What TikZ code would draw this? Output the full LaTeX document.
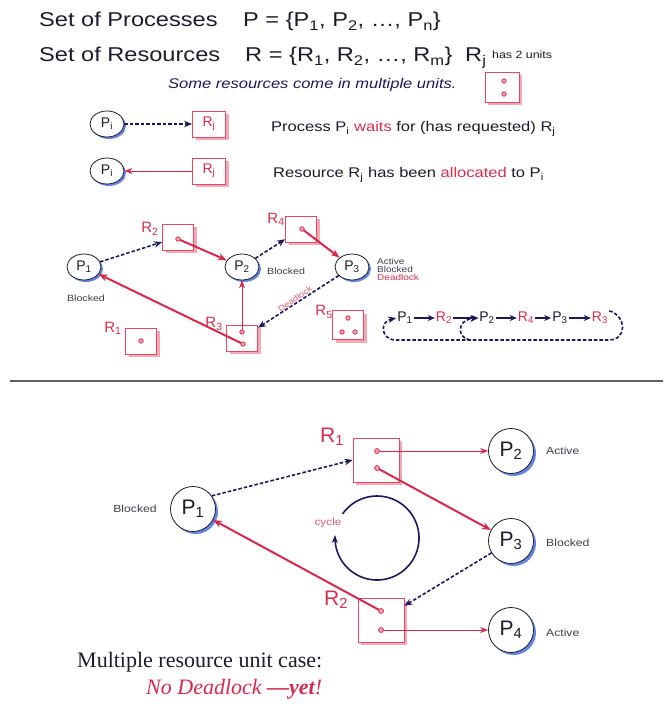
\documentclass[tikz,border=0pt]{standalone}
\usepackage{fontspec}
\setmainfont{Liberation Sans}
\newfontfamily\wsans[FakeStretch=1.18]{Liberation Sans}
\newfontfamily\tnr{Liberation Serif}
\usetikzlibrary{arrows.meta,shapes.geometric,shadows}
\definecolor{ink}{HTML}{1C1C2C}
\definecolor{mynavy}{HTML}{1A1A5A}
\definecolor{lred}{HTML}{D62A4C}
\definecolor{bred}{HTML}{E04A62}
\definecolor{rtext}{HTML}{D4304E}
\definecolor{pshadow}{HTML}{F2A8B6}
\definecolor{cshadow}{HTML}{5577DD}
\definecolor{dotfill}{HTML}{F0A0B0}
\newcommand\sbs[1]{\textsubscript{#1}}
\newcommand\fs[1]{\fontsize{#1}{#1}\selectfont}
\begin{document}
\begin{tikzpicture}[x=1pt,y=-1pt,
  procS/.style={ellipse, draw=ink, line width=0.8pt, fill=white, minimum width=34pt, minimum height=26pt, inner sep=0pt, font=\fs{14}, text=ink, drop shadow={shadow xshift=2pt, shadow yshift=-2pt, fill=cshadow, opacity=0.9}},
  procL/.style={circle, draw=ink, line width=0.8pt, fill=white, minimum size=45pt, inner sep=0pt, font=\fs{21}, text=ink, drop shadow={shadow xshift=2.5pt, shadow yshift=-2.5pt, fill=cshadow, opacity=0.9}},
  resS/.style={rectangle, draw=bred, line width=0.9pt, fill=white, minimum width=31pt, minimum height=26pt, inner sep=0pt, font=\fs{14}, text=rtext, drop shadow={shadow xshift=3pt, shadow yshift=-3pt, fill=pshadow, opacity=1}},
  resL/.style={rectangle, draw=bred, line width=0.9pt, fill=white, minimum width=46pt, minimum height=44pt, inner sep=0pt, drop shadow={shadow xshift=3pt, shadow yshift=-3pt, fill=pshadow, opacity=1}},
  dotS/.style={circle, draw=lred, fill=dotfill, line width=0.7pt, inner sep=0pt, minimum size=4.5pt},
  rlab/.style={font=\fs{15}, text=rtext, inner sep=0pt},
  rlabL/.style={font=\fs{21}, text=rtext, inner sep=0pt},
  title/.style={font=\wsans\fs{20}, text=ink, inner sep=0pt, anchor=base west},
  txt/.style={font=\wsans\fs{14}, text=ink, inner sep=0pt, anchor=base west},
  small/.style={font=\wsans\fs{9}, text=ink!85, inner sep=0pt},
  smallL/.style={font=\wsans\fs{10.3}, text=ink!85, inner sep=0pt, anchor=west},
  cyc/.style={font=\fs{14}, text=ink, inner sep=1pt},
  dashA/.style={mynavy, line width=1.6pt, dash pattern=on 3.5pt off 2pt, -{Stealth[length=8pt,width=6.5pt]}},
  cycA/.style={mynavy, line width=1.6pt, -{Stealth[length=7pt,width=6pt]}},
  redK/.style={lred, line width=2pt, -{Stealth[length=9pt,width=7pt]}},
  redN/.style={lred, line width=0.9pt, -{Stealth[length=8pt,width=6pt]}}
]
\fill[white] (0,0) rectangle (663,708);
\useasboundingbox (0,0) rectangle (663,708);

% ---------- titles ----------
\node[title] (t1) at (39,27) {Set of Processes};
\node[title] (t2) at (243,27) {P = \{P\sbs{1}, P\sbs{2}, …, P\sbs{n}\}};
\node[title] (t3) at (39,62) {Set of Resources};
\node[title] (t4) at (245,62) {R = \{R\sbs{1}, R\sbs{2}, …, R\sbs{m}\}};
\node[title] (t5) at (465,62) {R\sbs{j}};
\node[anchor=base west, font=\wsans\fs{10.5}, text=ink, inner sep=0pt] (t6) at (492,59) {has 2 units};
\node[anchor=base west, font=\wsans\itshape\fs{14}, text=mynavy, inner sep=0pt] (t7) at (168,89) {Some resources come in multiple units.};
\node[resS, minimum width=34pt, minimum height=30pt] (ubox) at (502,87) {};
\node[dotS] (ud1) at (504,81) {};
\node[dotS] (ud2) at (504,94) {};

% ---------- legend ----------
\node[procS] (li1) at (107,124) {P\sbs{i}};
\node[resS, minimum width=33pt] (lr1) at (209,124) {R\sbs{j}};
\draw[dashA] (li1) -- (lr1);
\node[txt] (lt1) at (271,132) {Process P\sbs{i} \textcolor{rtext}{waits} for (has requested) R\sbs{j}};
\node[procS] (li2) at (107,171) {P\sbs{i}};
\node[resS, minimum width=33pt] (lr2) at (209,171) {R\sbs{j}};
\draw[redN] (lr2) -- (li2);
\node[txt] (lt2) at (273,178) {Resource R\sbs{j} has been \textcolor{rtext}{allocated} to P\sbs{i}};

% ---------- top graph ----------
\node[procS] (P1) at (84,267) {P\sbs{1}};
\node[procS] (P2) at (242,267) {P\sbs{2}};
\node[procS] (P3) at (352,267) {P\sbs{3}};
\node[resS] (R2) at (178,237) {};
\node[resS] (R4) at (301,229) {};
\node[resS] (R3) at (242,338) {};
\node[resS] (R1) at (141,341) {};
\node[resS, minimum height=29pt] (R5) at (348,325) {};
\node[rlab] (R2l) at (150,229) {R\sbs{2}};
\node[rlab] (R4l) at (276,219) {R\sbs{4}};
\node[rlab] (R3l) at (214,324) {R\sbs{3}};
\node[rlab] (R1l) at (113,328) {R\sbs{1}};
\node[rlab] (R5l) at (324,312) {R\sbs{5}};
\coordinate (r2d) at (178,239);
\coordinate (r4d) at (302,229);
\coordinate (r3a) at (242,332);
\coordinate (r3b) at (243,344);
\draw[dashA] (P1) -- (R2);
\draw[redK] (r2d) -- (P2);
\draw[dashA] (P2) -- (R4);
\draw[redK] (r4d) -- (P3);
\draw[dashA] (P3) -- (R3);
\draw[redK] (r3b) -- (P1);
\draw[redN] (r3a) -- (P2);
\node[dotS] (r2dn) at (r2d) {};
\node[dotS] (r4dn) at (r4d) {};
\node[dotS] (r3an) at (r3a) {};
\node[dotS] (r3bn) at (r3b) {};
\node[dotS] (r1dn) at (141,341) {};
\node[dotS] (r5d1) at (348,318) {};
\node[dotS] (r5d2) at (342,332) {};
\node[dotS] (r5d3) at (355,332) {};
\node[small] (bl1) at (86,298) {Blocked};
\node[small, anchor=west] (bl2) at (267,271) {Blocked};
\node[small, anchor=base west, font=\wsans\fs{8.5}] (st1) at (377,264) {Active};
\node[small, anchor=base west, font=\wsans\fs{8.5}] (st2) at (377,272) {Blocked};
\node[small, anchor=base west, font=\wsans\fs{8.5}, text=rtext] (st3) at (377,280) {Deadlock};
\node[font=\wsans\fs{8}, text=rtext!80, rotate=35, inner sep=0pt] (dl) at (295,299) {Deadlock};

% ---------- cycle notation ----------
\node[cyc] (c1) at (405,318) {P\sbs{1}};
\node[cyc, text=rtext] (c2) at (444,318) {R\sbs{2}};
\node[cyc] (c3) at (487,318) {P\sbs{2}};
\node[cyc, text=rtext] (c4) at (526,318) {R\sbs{4}};
\node[cyc] (c5) at (560,318) {P\sbs{3}};
\node[cyc, text=rtext] (c6) at (600,318) {R\sbs{3}};
\draw[cycA] (c1) -- (c2);
\draw[cycA] (c2) -- (c3);
\draw[cycA] (c3) -- (c4);
\draw[cycA] (c4) -- (c5);
\draw[cycA] (c5) -- (c6);
\coordinate (brB) at (470,340);
\draw[dashA] (c6.north east) .. controls (627,316) and (627,340) .. (609,340) -- (396,340) .. controls (381,340) and (379,322) .. (c1.west);
\draw[dashA] (brB) .. controls (457,338) and (456,320) .. (c3.west);

% ---------- separator ----------
\draw[line width=1.6pt, gray!75!black] (10,381) -- (663,381);

% ---------- bottom graph ----------
\node[procL] (Q1) at (193,509) {P\sbs{1}};
\node[procL] (Q2) at (511,451) {P\sbs{2}};
\node[procL] (Q3) at (511,541) {P\sbs{3}};
\node[procL] (Q4) at (511,630) {P\sbs{4}};
\node[resL] (S1) at (376,460) {};
\node[resL] (S2) at (381,620) {};
\node[rlabL] (S1l) at (332,437) {R\sbs{1}};
\node[rlabL] (S2l) at (336,600) {R\sbs{2}};
\coordinate (s1a) at (377,451);
\coordinate (s1b) at (377,468);
\coordinate (s2a) at (381,611);
\coordinate (s2b) at (381,630);
\draw[dashA] (Q1.35) -- (S1.west);
\draw[redN] (s1a) -- (Q2);
\draw[redK] (s1b) -- (Q3);
\draw[dashA] (Q3) -- (S2);
\draw[redK] (s2a) -- (Q1);
\draw[redN] (s2b) -- (Q4);
\node[dotS, minimum size=5pt] (s1an) at (s1a) {};
\node[dotS, minimum size=5pt] (s1bn) at (s1b) {};
\node[dotS, minimum size=5pt] (s2an) at (s2a) {};
\node[dotS, minimum size=5pt] (s2bn) at (s2b) {};
\node[smallL, anchor=center] (bq1) at (135,509) {Blocked};
\node[smallL] (aq2) at (546,451) {Active};
\node[smallL] (bq3) at (546,543) {Blocked};
\node[smallL] (aq4) at (546,633) {Active};
\draw[mynavy, line width=1.6pt, -{Stealth[length=8pt,width=6pt]}] plot[domain=-145:184, samples=80, smooth] ({377+42*cos(\x)},{538+42*sin(\x)});
\node[font=\wsans\fs{10}, text=rtext!80, inner sep=0pt] (cy) at (328,523) {cycle};

% ---------- bottom text ----------
\node[anchor=base west, font=\tnr\fs{22}, text=ink, inner sep=0pt] (m1) at (77,667) {Multiple resource unit case:};
\node[anchor=base west, font=\tnr\itshape\fs{22}, text=lred, inner sep=0pt] (m2) at (146,694) {No Deadlock \textbf{—yet}!};
\end{tikzpicture}
\end{document}
